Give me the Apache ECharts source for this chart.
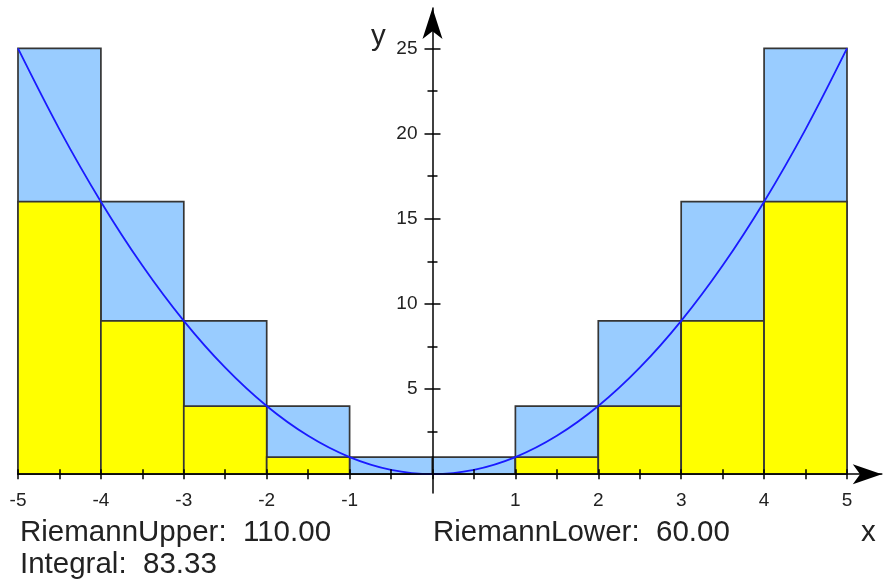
<!DOCTYPE html>
<html>
<head>
<meta charset="utf-8">
<script src="https://cdn.jsdelivr.net/npm/echarts@6/dist/echarts.min.js"></script>
<style>html,body{margin:0;padding:0;background:#fff;}#c{width:883px;height:586px;}</style>
</head>
<body>
<div id="c"></div>
<script>
// Riemann sums of f(x) = x^2 on [-5, 5] with 10 subintervals
const intervalLeft  = [-5, -4, -3, -2, -1, 0, 1, 2, 3, 4];
const intervalRight = [-4, -3, -2, -1, 0, 1, 2, 3, 4, 5];
const upperHeights  = [25, 16, 9, 4, 1, 1, 4, 9, 16, 25];
const lowerHeights  = [16, 9, 4, 1, 0, 0, 1, 4, 9, 16];
const curveX = [-5, -4.5, -4, -3.5, -3, -2.5, -2, -1.5, -1, -0.5, 0, 0.5, 1, 1.5, 2, 2.5, 3, 3.5, 4, 4.5, 5];
const curveY = [25, 20.25, 16, 12.25, 9, 6.25, 4, 2.25, 1, 0.25, 0, 0.25, 1, 2.25, 4, 6.25, 9, 12.25, 16, 20.25, 25];
const xTickValues = [-5, -4.5, -4, -3.5, -3, -2.5, -2, -1.5, -1, -0.5, 0, 0.5, 1, 1.5, 2, 2.5, 3, 3.5, 4, 4.5, 5];
const xLabelValues = [-5, -4, -3, -2, -1, 1, 2, 3, 4, 5];
const yMajorValues = [5, 10, 15, 20, 25];
const yMinorValues = [2.5, 7.5, 12.5, 17.5, 22.5];
const infoTexts = {
  upper: 'RiemannUpper:  110.00',
  lower: 'RiemannLower:  60.00',
  integral: 'Integral:  83.33'
};

const FONT = '"Liberation Sans", Arial, sans-serif';
const TXT = '#222';
const X_MIN = -5, X_MAX = 5.42, Y_MIN = -1.1, Y_MAX = 27.37;
const G_LEFT = 18, G_TOP = 8.1, G_W = 863.8, G_H = 484.8;

// axis offsets so that the axes pass through the origin
const x0Left  = (0 - X_MIN) / (X_MAX - X_MIN) * G_W;   // from grid left
const x0Right = (X_MAX - 0) / (X_MAX - X_MIN) * G_W;   // from grid right
const y0Top   = (Y_MAX - 0) / (Y_MAX - Y_MIN) * G_H;   // from grid top
const y0Bot   = (0 - Y_MIN) / (Y_MAX - Y_MIN) * G_H;   // from grid bottom

const rectData = (heights) => intervalLeft.map((l, i) => [l, intervalRight[i], heights[i]]);

function rectRenderer(fill) {
  return function (params, api) {
    const h = api.value(2);
    if (h <= 0) return null;
    const p0 = api.coord([api.value(0), h]);
    const p1 = api.coord([api.value(1), 0]);
    return {
      type: 'rect',
      shape: { x: p0[0], y: p0[1], width: p1[0] - p0[0], height: p1[1] - p0[1] },
      style: { fill: fill, stroke: '#353535', lineWidth: 1.7 }
    };
  };
}

const chart = echarts.init(document.getElementById('c'), null, { renderer: 'canvas' });

const tickLine = { color: '#000', width: 1.5 };
const baseX = { type: 'value', min: X_MIN, max: X_MAX, splitLine: { show: false }, z: 10 };
const baseY = { type: 'value', min: Y_MIN, max: Y_MAX, splitLine: { show: false }, z: 10 };

chart.setOption({
  animation: false,
  backgroundColor: '#fff',
  grid: { left: G_LEFT, top: G_TOP, width: G_W, height: G_H, containLabel: false, outerBoundsMode: 'none' },
  xAxis: [
    Object.assign({}, baseX, {
      position: 'bottom', offset: -y0Bot,
      axisLine: { show: true, onZero: false, symbol: ['none', 'arrow'], symbolSize: [15, 29], lineStyle: { color: '#000', width: 1.5 } },
      axisTick: { show: true, length: 5, customValues: xTickValues, lineStyle: tickLine },
      axisLabel: { show: true, customValues: xLabelValues, margin: 17, color: TXT, fontSize: 19, fontFamily: FONT }
    }),
    Object.assign({}, baseX, {
      position: 'top', offset: -y0Top,
      axisLine: { show: false, onZero: false },
      axisTick: { show: true, length: 5, customValues: xTickValues, lineStyle: tickLine },
      axisLabel: { show: false }
    })
  ],
  yAxis: [
    Object.assign({}, baseY, {
      position: 'left', offset: -x0Left,
      axisLine: { show: true, onZero: false, symbol: ['none', 'arrow'], symbolSize: [15, 31], lineStyle: { color: '#000', width: 1.5 } },
      axisTick: { show: true, length: 8, customValues: yMajorValues, lineStyle: tickLine },
      axisLabel: { show: true, customValues: yMajorValues, margin: 15, color: TXT, fontSize: 19, fontFamily: FONT }
    }),
    Object.assign({}, baseY, {
      position: 'right', offset: -x0Right,
      axisLine: { show: false, onZero: false },
      axisTick: { show: true, length: 8, customValues: yMajorValues, lineStyle: tickLine },
      axisLabel: { show: false }
    }),
    Object.assign({}, baseY, {
      position: 'left', offset: -x0Left,
      axisLine: { show: false, onZero: false },
      axisTick: { show: true, length: 5, customValues: yMinorValues, lineStyle: tickLine },
      axisLabel: { show: false }
    }),
    Object.assign({}, baseY, {
      position: 'right', offset: -x0Right,
      axisLine: { show: false, onZero: false },
      axisTick: { show: true, length: 5, customValues: yMinorValues, lineStyle: tickLine },
      axisLabel: { show: false }
    })
  ],
  series: [
    { type: 'custom', name: 'RiemannUpper', xAxisIndex: 0, yAxisIndex: 0, z: 2,
      renderItem: rectRenderer('#99ccff'), data: rectData(upperHeights), silent: true },
    { type: 'custom', name: 'RiemannLower', xAxisIndex: 0, yAxisIndex: 0, z: 3,
      renderItem: rectRenderer('#ffff00'), data: rectData(lowerHeights), silent: true },
    { type: 'line', name: 'f', xAxisIndex: 0, yAxisIndex: 0, z: 4,
      data: curveX.map((x, i) => [x, curveY[i]]), smooth: 0.35, showSymbol: false,
      lineStyle: { color: '#1a1aff', width: 1.8 } }
  ],
  graphic: [
    { type: 'text', left: 20, top: 518, style: { text: infoTexts.upper, fill: TXT, font: '29.5px ' + FONT } },
    { type: 'text', left: 433, top: 518, style: { text: infoTexts.lower, fill: TXT, font: '29.5px ' + FONT } },
    { type: 'text', left: 20, top: 550, style: { text: infoTexts.integral, fill: TXT, font: '29.5px ' + FONT } },
    { type: 'text', left: 861, top: 518, style: { text: 'x', fill: TXT, font: '29.5px ' + FONT } },
    { type: 'text', left: 371, top: 22, style: { text: 'y', fill: TXT, font: '29.5px ' + FONT } }
  ]
});
</script>
</body>
</html>
